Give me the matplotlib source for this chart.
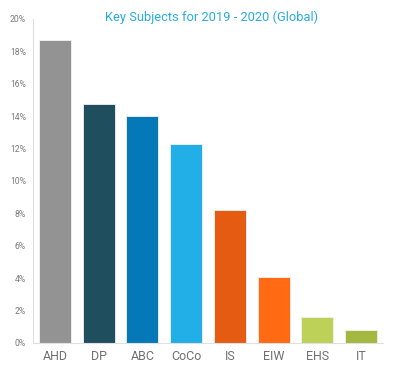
import matplotlib.pyplot as plt
from matplotlib.ticker import PercentFormatter

subjects = ["AHD", "DP", "ABC", "CoCo", "IS", "EIW", "EHS", "IT"]
shares = [18.7, 14.75, 14.0, 12.3, 8.2, 4.07, 1.6, 0.8]
colors = ["#939393", "#1f4e5f", "#0579b8", "#22aee6",
          "#e55b12", "#ff6a13", "#bdd159", "#a2b83e"]

plt.rcParams['font.family'] = ['Roboto', 'DejaVu Sans']

fig = plt.figure(figsize=(4.01, 3.82), dpi=100)
ax = fig.add_axes([33 / 401, 39 / 382, 350 / 401, 324 / 382])

ax.bar(range(len(subjects)), shares, width=0.73, color=colors,
       edgecolor="#f2f2f2", linewidth=0.6)

ax.set_xlim(-0.5, 7.5)
ax.set_ylim(0, 20)
ax.set_yticks(range(0, 21, 2))
ax.yaxis.set_major_formatter(PercentFormatter(decimals=0))
ax.set_xticks(range(len(subjects)))
ax.set_xticklabels(subjects)

ax.tick_params(axis="y", length=0, labelsize=6.2, labelcolor="#7a7a7a", pad=5)
ax.tick_params(axis="x", length=0, labelsize=9, labelcolor="#707070", pad=5)

for s in ["top", "right"]:
    ax.spines[s].set_visible(False)
ax.spines["left"].set_color("#e0e0e0")
ax.spines["bottom"].set_color("#e0e0e0")

fig.text(212 / 401, 1 - 17 / 382, "Key Subjects for 2019 - 2020 (Global)",
         ha="center", va="center", fontsize=9.3, color="#29abe2")

fig.savefig("out.png", dpi=100)
